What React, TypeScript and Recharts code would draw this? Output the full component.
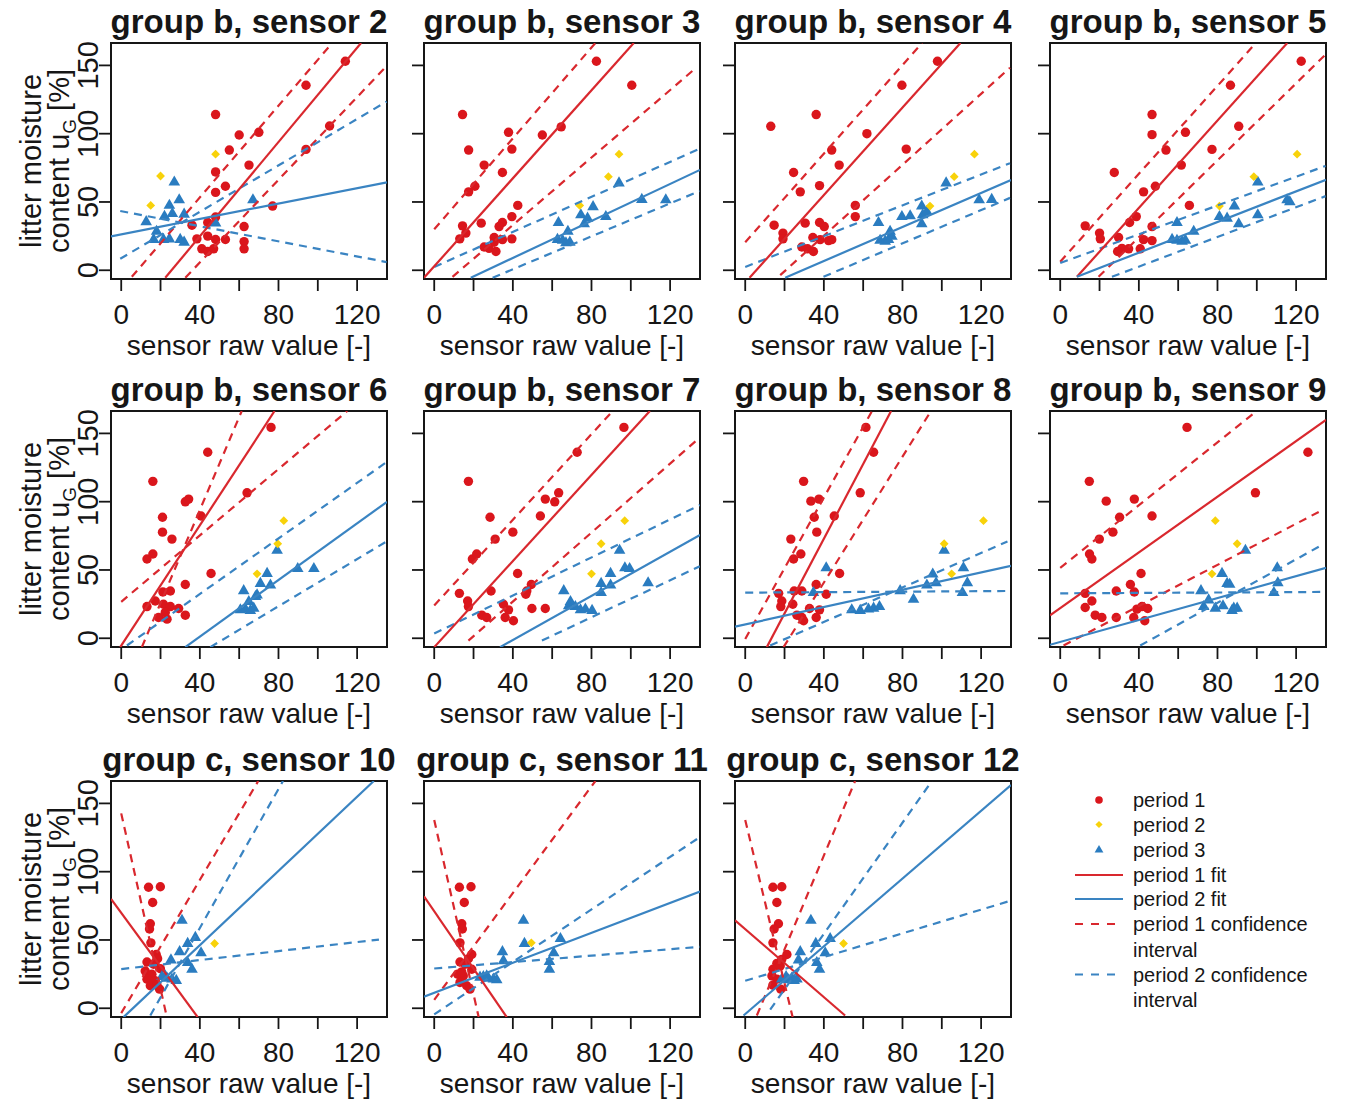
import React from 'react';
import { ScatterChart, Scatter, XAxis, YAxis, ReferenceArea } from 'recharts';

type Pt = [number, number];

const FONT = '"Liberation Sans", Arial, Helvetica, sans-serif';
const RED = '#DA161C';
const YELLOW = '#F8D20A';
const BLUE = '#2A7CC0';
const RED_LINE = '#D9282E';
const BLUE_LINE = '#3A84C2';
const INK = '#161616';

const xTicks = [0, 20, 40, 60, 80, 100, 120];
const yTicks = [0, 50, 100, 150];
const xDomain: [number, number] = [-5.2, 135.2];
const yDomain: [number, number] = [-6.4, 166.4];

const titles = [
  'group b, sensor 2', 'group b, sensor 3', 'group b, sensor 4', 'group b, sensor 5',
  'group b, sensor 6', 'group b, sensor 7', 'group b, sensor 8', 'group b, sensor 9',
  'group c, sensor 10', 'group c, sensor 11', 'group c, sensor 12',
];

// ---- sensor 2
const p1_s2: Pt[] = [[114,153],[94,135.5],[106,105.6],[94,88.5],[48,114],[60,99],[70,101],[55,88],[65,77],[48,72],[53,61.5],[48,57],[77,47],[48,39],[44,35],[36,33],[62.5,32],[38.5,23],[44,25],[48,22.5],[53,22.5],[62.5,21],[62.5,15.7],[41,15.7],[44,13.7],[47,15.7]];
const p2_s2: Pt[] = [[20,69],[15,47.5],[48,85]];
const p3_s2: Pt[] = [[27,65],[29.5,52],[24.5,48],[67,52],[12.7,36],[22,40],[32,41.5],[26,42],[18,29],[16.5,23],[21.5,23],[24.5,23.4],[30,23],[32,21],[48,35]];
const fit1_s2: Pt[] = [[22.4,-5.5],[122,166.4]];
const fit2_s2: Pt[] = [[-5.2,24.8],[135.2,64.4]];
const ci1_s2: Pt[][] = [[[5.4,-4.8],[106.5,165]], [[32.6,-5.5],[135,149.5]]];
const ci2_s2: Pt[][] = [[[-0.5,8.4],[135,123.5]], [[-0.5,43.4],[135,6]]];

// ---- sensor 3
const p1_s3: Pt[] = [[14.4,114],[82.5,153],[100.5,135.5],[17.5,88],[37.8,101],[39.5,88.7],[55,99],[64.6,105],[25.4,77],[34.7,71.6],[17.5,57.4],[20.7,61.5],[14.4,32.5],[16.1,27.2],[13,23],[23.9,34.5],[34.7,35],[33,32],[39.5,39.3],[42.5,47.5],[39.5,23],[30.5,24],[34.7,22.4],[25.4,17],[27.9,16],[31.4,13.7],[30.5,20.5]];
const p2_s3: Pt[] = [[74,47.5],[88.6,68.5],[94,85]];
const p3_s3: Pt[] = [[94,64.4],[105.6,52.3],[117.8,52],[80.8,47],[74.6,41],[78,38.6],[87.3,39.8],[76.3,34.5],[63.2,35.4],[68,29],[62.7,23],[65.3,22.4],[67,20.5],[69,21]];
const fit1_s3: Pt[] = [[-5.2,-5.5],[101.5,166.4]];
const fit2_s3: Pt[] = [[18.6,-5.5],[135.2,73.5]];
const ci1_s3: Pt[][] = [[[0,30],[82,166.4]], [[9.3,-4.8],[133,148]]];
const ci2_s3: Pt[][] = [[[0,2.4],[135,89]], [[29.7,-5.5],[135,58]]];

// ---- sensor 4
const p1_s4: Pt[] = [[97.8,153],[79.7,135.5],[36.1,114],[13,105.4],[61.9,100],[81.9,88.7],[44,88],[47.8,77],[24.6,71.6],[37.8,62],[28,57.4],[56,47.5],[56,39.3],[14.7,33],[30.5,34.5],[37.8,35],[40.2,32],[19.2,27.2],[19.2,23],[34.4,24],[38.1,22.4],[42.4,21.7],[44,22.4],[28.8,17],[31.7,15.7],[34.7,13.7]];
const p2_s4: Pt[] = [[94,47],[106.3,68.5],[116.6,85]];
const p3_s4: Pt[] = [[102.2,64.4],[119,52],[125.4,52.3],[89.8,47.5],[79.7,39.8],[83.9,40.3],[90.3,41],[89.8,34.5],[67.8,35.4],[73.7,29],[68.6,22.4],[71.2,21.7],[72.9,23],[74.6,25.3],[92.4,43.4]];
const fit1_s4: Pt[] = [[2.2,-5.5],[109.5,166.4]];
const fit2_s4: Pt[] = [[20.3,-5.5],[135.2,66]];
const ci1_s4: Pt[][] = [[[0,20.5],[90,166.4]], [[17.8,-3.6],[134.7,148.3]]];
const ci2_s4: Pt[][] = [[[0,2.4],[134.7,78.4]], [[39.8,-4.8],[134.7,53]]];

// ---- sensor 5
const p1_s5: Pt[] = [[122.6,153],[86.6,135.5],[46.7,114],[46.7,99.3],[63.7,101],[90.8,105.4],[53.8,88],[77.2,88.5],[61.6,77],[27.5,71.6],[42.4,57.4],[48.4,61.5],[65.7,47.5],[12.7,32.5],[38.7,39.3],[35.3,35],[46.7,32],[20,27.2],[20.4,23],[29.7,24],[42.4,22.4],[46.7,21.7],[31.4,16],[34.8,15.7],[29.2,13.7],[40.7,15.7]];
const p2_s5: Pt[] = [[81,47],[98.5,68.5],[120.5,85]];
const p3_s5: Pt[] = [[100.5,65],[115.4,52],[116.8,50.6],[88.6,47.5],[81,39.8],[84.9,38.6],[90.8,34.5],[100.5,41],[59.4,35.4],[56.9,23],[59.4,22.4],[62,21.7],[63.7,22.4],[67.9,29]];
const fit1_s5: Pt[] = [[8.5,-4.8],[115.5,166.4]];
const fit2_s5: Pt[] = [[8.5,-4.8],[135.2,66.3]];
const ci1_s5: Pt[][] = [[[0,6.2],[99.5,166.4]], [[19.5,-4.8],[135,158]]];
const ci2_s5: Pt[][] = [[[0,5.25],[135,76.4]], [[26.3,-4.8],[135,54.3]]];

// ---- sensor 6
const p1_s6: Pt[] = [[76.2,154.4],[44,136.2],[16.1,114.9],[34.3,101.9],[32.6,99.9],[64,106.5],[40.6,89.5],[21,88.6],[21,77.7],[25.8,72.6],[13.1,58],[16.1,61.7],[45.7,47.4],[32.6,39.4],[21.2,33.9],[25,34.6],[13.1,23.2],[17.3,27.3],[21.5,24.9],[25,23.2],[29.2,21.8],[32.6,16.9],[19,15.2],[23.3,14],[22.4,18.9]];
const p2_s6: Pt[] = [[69.1,47.2],[79.6,69.2],[82.7,86.1]];
const p3_s6: Pt[] = [[79.3,64.8],[89.8,51.5],[98,51.5],[74.2,47.9],[70.8,40.6],[75.9,39.4],[62.3,35.3],[68.3,31],[64.9,27.3],[60.6,21.3],[63.2,21.8],[65.7,20.8],[67.4,22.5],[69.1,32.2]];
const fit1_s6: Pt[] = [[-0.5,-6.5],[78,166.4]];
const fit2_s6: Pt[] = [[32.6,-6.5],[135.2,99.9]];
const ci1_s6: Pt[][] = [[[10.5,-6.5],[61.3,166.4]], [[0,26.7],[115,166.4]]];
const ci2_s6: Pt[][] = [[[2.9,-5.3],[135,129]], [[45.3,-6.5],[135,70.9]]];

// ---- sensor 7
const p1_s7: Pt[] = [[96.5,154.4],[72.7,136.2],[17.4,114.9],[56.5,101.9],[61.3,99.9],[63.3,106.5],[54,89.5],[28.4,88.6],[40,77.7],[31,72.6],[19.4,58],[21.6,61.7],[42.4,47.4],[28.9,34.6],[12.8,32.9],[47.1,34.6],[49.4,39.4],[46.6,32.2],[17,27.3],[17.4,23.2],[35.2,24.9],[37.8,20.8],[49.7,21.8],[56.5,21.8],[24.2,16.9],[26.7,15.2],[36.1,15.2],[40.3,12.8]];
const p2_s7: Pt[] = [[80,47.2],[84.9,69.2],[96.9,86.1]];
const p3_s7: Pt[] = [[94.3,64.8],[97,52],[99.4,51.5],[108.8,41.1],[89.7,47.9],[84.9,40.6],[89.7,39.4],[84.9,33.9],[65.9,35.3],[69.3,27.3],[71.8,23.7],[74.4,21.3],[76.9,21.8],[80.3,20.8],[68.4,24.2]];
const fit1_s7: Pt[] = [[0,-6.5],[109.7,166.4]];
const fit2_s7: Pt[] = [[33.5,-6.5],[135.2,75.7]];
const ci1_s7: Pt[][] = [[[0,24],[90.8,166.4]], [[17.4,-1.7],[134.8,146.6]]];
const ci2_s7: Pt[][] = [[[0,3.5],[135.1,97.5]], [[54.8,-1.7],[135.1,52.7]]];

// ---- sensor 8
const p1_s8: Pt[] = [[61.4,154.4],[65.3,136.2],[29.7,114.9],[33.4,100.4],[37.5,101.9],[58.5,106.5],[45.3,89.5],[35.1,88.6],[36.4,77.7],[23.2,72.6],[24.6,58],[28.3,61.7],[48,47.4],[36.1,39.4],[41.2,32.2],[17,32.9],[24.9,34.6],[28.8,34.6],[18.6,27.3],[18.1,23.2],[24.2,24.9],[32.7,21.8],[37.8,20.8],[26.3,16.9],[28.8,15.2],[36.1,15.2],[29.7,12.8]];
const p2_s8: Pt[] = [[105,47.2],[101.2,69.2],[121.2,86.1]];
const p3_s8: Pt[] = [[101.2,64.8],[111,52],[41.2,52],[34.7,33.9],[78.8,35.3],[85.6,29],[92.4,39.4],[95.4,47.4],[97.1,41.1],[110.5,33.9],[54.2,21.3],[58.5,20.8],[62.7,21.8],[65.3,22.5],[68.3,23.7],[113,41.1]];
const fit1_s8: Pt[] = [[11,-6.5],[74.2,166.4]];
const fit2_s8: Pt[] = [[-5.2,8.5],[135.2,53]];
const ci1_s8: Pt[][] = [[[0,-0.5],[64.5,166.4]], [[19.5,-6.5],[94.5,166.4]]];
const ci2_s8: Pt[][] = [[[0,33.4],[133.4,34.6]], [[12.7,-5.3],[133.4,70.9]]];

// ---- sensor 9
const p1_s9: Pt[] = [[64.5,154.4],[126,136.2],[99.3,106.5],[14.8,114.9],[23.4,100.4],[37.7,101.9],[30.2,88.6],[46.7,89.5],[26.8,77.7],[19.9,72.6],[14.9,61.7],[16.1,58],[41.1,47.4],[28.5,34.6],[35.7,39.4],[37.7,33.9],[12.7,32.9],[16.1,27.3],[12.7,22.5],[17.8,16.9],[21.2,15.2],[28.5,15.2],[37.4,15.2],[39,21.3],[41.6,23.2],[44.5,21.8],[43,12.8]];
const p2_s9: Pt[] = [[77.2,47.2],[90,69.2],[78.9,86.1]];
const p3_s9: Pt[] = [[94.2,64.8],[82.3,47.9],[84.9,40.6],[86.2,39.9],[71.6,35.3],[75.5,28.5],[73,23.7],[78.9,22.5],[82.8,24.2],[87.4,20.8],[90,22.5],[110.4,52],[110.7,41.1],[108.7,33.9],[88.3,22.5]];
const fit1_s9: Pt[] = [[-5.2,16.8],[135.2,159.9]];
const fit2_s9: Pt[] = [[-5.2,-4.8],[135.2,51.6]];
const ci1_s9: Pt[][] = [[[0,51.5],[100,166.4]], [[1.7,-5.3],[132.4,93.2]]];
const ci2_s9: Pt[][] = [[[0,32.9],[132.4,33.9]], [[40.7,-5.3],[132.4,67.7]]];

// ---- sensor 10
const p1_s10: Pt[] = [[13.9,88.6],[19.9,89],[16,77.4],[14.8,61.9],[14.4,58],[15.1,47.9],[17.8,39.4],[18.5,36.3],[13.1,33.9],[16.5,32.2],[19.9,29],[12.2,27.3],[15.6,24.9],[13.1,21.3],[17.3,20.1],[14.8,16.5],[19.5,14],[18.2,16.9]];
const p2_s10: Pt[] = [[47.5,47.4]];
const p3_s10: Pt[] = [[30.9,64.8],[37.7,52.3],[33.8,47.9],[29.7,41.9],[40.6,41.1],[25.3,35.8],[33.8,33.9],[36,29],[20.7,23.7],[23.3,22.5],[25.8,21.8],[28,20.8],[22.4,24.2]];
const fit1_s10: Pt[] = [[-5.2,80],[38.9,-6.5]];
const fit2_s10: Pt[] = [[1.2,-6.5],[128.5,166.4]];
const ci1_s10: Pt[][] = [[[0,142.7],[23.2,-6.4]], [[0,-3.6],[69.7,166.4]]];
const ci2_s10: Pt[][] = [[[14.8,-5.3],[82.3,166.4]], [[0,28.7],[131.1,50.3]]];

// ---- sensor 11
const p1_s11: Pt[] = [[12.8,88.6],[18.7,89],[15.3,77.4],[14,61.9],[14.3,58],[13.1,47.9],[19.1,39.4],[17.4,36.3],[13.1,33.9],[15.7,32.2],[19.1,28.6],[11.9,24.9],[14.8,23.7],[13.1,18.9],[16.5,16.5],[18.2,14],[14,26.6]];
const p2_s11: Pt[] = [[49.4,47.9]];
const p3_s11: Pt[] = [[45.4,64.8],[64.2,51.5],[45.9,47.9],[34.7,41.9],[60.8,41.1],[35.2,35.3],[58.6,34.6],[58.6,29],[25,23.7],[27.6,22.5],[30.1,21.8],[31.8,21.3],[26.7,24.2],[23.3,23.2]];
const fit1_s11: Pt[] = [[-5.2,82],[36.9,-6.5]];
const fit2_s11: Pt[] = [[-5.2,8.5],[135.2,85.5]];
const ci1_s11: Pt[][] = [[[0,137.8],[22.6,-6.4]], [[0,6.2],[82,166.4]]];
const ci2_s11: Pt[][] = [[[0,-4.5],[135.1,125.3]], [[0,29.1],[135.1,45]]];

// ---- sensor 12
const p1_s12: Pt[] = [[14.1,88.6],[18.6,89],[16.1,77.4],[16.9,61.9],[14.7,58],[14.1,47.9],[21.2,39.4],[18.6,35.8],[16.1,32.9],[14.1,28.6],[13.6,23.7],[16.1,21.3],[14.1,16.9],[18.1,14],[17.8,31]];
const p2_s12: Pt[] = [[50,47.4]];
const p3_s12: Pt[] = [[33.4,64.8],[43.2,51.5],[35.9,47.9],[28,41.9],[40.7,41.1],[27.1,35.8],[36.4,33.9],[37.8,29],[20.8,23.7],[23.7,22.5],[26.3,21.8],[22,21.3],[24.9,20.8],[18.6,21.8]];
const fit1_s12: Pt[] = [[-5.2,64.4],[50.8,-5.3]];
const fit2_s12: Pt[] = [[-0.85,-5.3],[135.2,163.5]];
const ci1_s12: Pt[][] = [[[0,137.9],[24.1,-6.4]], [[5.9,-5.3],[55.9,166.4]]];
const ci2_s12: Pt[][] = [[[12.7,-1],[95,166.4]], [[0,20.1],[134.7,78.6]]];

const legendLabels = ['period 1', 'period 2', 'period 3', 'period 1 fit', 'period 2 fit', 'period 1 confidence', 'interval', 'period 2 confidence', 'interval'];

const panels = [
  { p1: p1_s2, p2: p2_s2, p3: p3_s2, fit1: fit1_s2, fit2: fit2_s2, ci1: ci1_s2, ci2: ci2_s2 },
  { p1: p1_s3, p2: p2_s3, p3: p3_s3, fit1: fit1_s3, fit2: fit2_s3, ci1: ci1_s3, ci2: ci2_s3 },
  { p1: p1_s4, p2: p2_s4, p3: p3_s4, fit1: fit1_s4, fit2: fit2_s4, ci1: ci1_s4, ci2: ci2_s4 },
  { p1: p1_s5, p2: p2_s5, p3: p3_s5, fit1: fit1_s5, fit2: fit2_s5, ci1: ci1_s5, ci2: ci2_s5 },
  { p1: p1_s6, p2: p2_s6, p3: p3_s6, fit1: fit1_s6, fit2: fit2_s6, ci1: ci1_s6, ci2: ci2_s6 },
  { p1: p1_s7, p2: p2_s7, p3: p3_s7, fit1: fit1_s7, fit2: fit2_s7, ci1: ci1_s7, ci2: ci2_s7 },
  { p1: p1_s8, p2: p2_s8, p3: p3_s8, fit1: fit1_s8, fit2: fit2_s8, ci1: ci1_s8, ci2: ci2_s8 },
  { p1: p1_s9, p2: p2_s9, p3: p3_s9, fit1: fit1_s9, fit2: fit2_s9, ci1: ci1_s9, ci2: ci2_s9 },
  { p1: p1_s10, p2: p2_s10, p3: p3_s10, fit1: fit1_s10, fit2: fit2_s10, ci1: ci1_s10, ci2: ci2_s10 },
  { p1: p1_s11, p2: p2_s11, p3: p3_s11, fit1: fit1_s11, fit2: fit2_s11, ci1: ci1_s11, ci2: ci2_s11 },
  { p1: p1_s12, p2: p2_s12, p3: p3_s12, fit1: fit1_s12, fit2: fit2_s12, ci1: ci1_s12, ci2: ci2_s12 },
];

// layout (page pixels of each plot box)
const COL_X = [111, 424, 735, 1050];
const ROW_Y = [43, 411, 781];
const PW = 276;
const PH = 236;
const ML = 112; // room left of plot box
const MT = 8;
const MR = 12;
const MB = 86;

const toXY = (a: Pt[]) => a.map(([x, y]) => ({ x, y }));

const Dot = (p: any) => <circle cx={p.cx} cy={p.cy} r={4.7} fill={RED} />;
const Diamond = (p: any) => {
  const r = 4.4;
  return <path d={`M${p.cx},${p.cy - r}L${p.cx + r},${p.cy}L${p.cx},${p.cy + r}L${p.cx - r},${p.cy}Z`} fill={YELLOW} />;
};
const Tri = (p: any) => (
  <path d={`M${p.cx},${p.cy - 6}L${p.cx + 5.8},${p.cy + 4.1}L${p.cx - 5.8},${p.cy + 4.1}Z`} fill={BLUE} />
);
const Empty = () => <g />;

const XTick = (p: any) => {
  const v = p.payload.value;
  if (v % 40 !== 0) return <g />;
  return (
    <text x={p.x} y={p.y + 32.5} textAnchor="middle" fontSize={28} fontFamily={FONT} fill={INK}>
      {v}
    </text>
  );
};

const YTick = (p: any) => {
  const bx = p.x - 0.5;
  return (
    <text x={bx} y={p.y} transform={`rotate(-90 ${bx} ${p.y})`} textAnchor="middle" fontSize={29} fontFamily={FONT} fill={INK}>
      {p.payload.value}
    </text>
  );
};

const XLabel = (p: any) => {
  const vb = p.viewBox;
  return (
    <text x={vb.x + vb.width / 2} y={vb.y + 76} textAnchor="middle" fontSize={28} fontFamily={FONT} fill={INK}>
      sensor raw value [-]
    </text>
  );
};

const YLabel = (p: any) => {
  const vb = p.viewBox;
  const left = vb.x + vb.width;
  const cy = vb.y + vb.height / 2;
  const b1 = left - 70;
  const b2 = left - 42;
  return (
    <g fontFamily={FONT} fontSize={29} fill={INK}>
      <text x={b1} y={cy} transform={`rotate(-90 ${b1} ${cy})`} textAnchor="middle">litter moisture</text>
      <text x={b2} y={cy} transform={`rotate(-90 ${b2} ${cy})`} textAnchor="middle">
        content u<tspan dy={7} fontSize={19}>G</tspan><tspan dy={-7}> [%]</tspan>
      </text>
    </g>
  );
};

function Panel({ idx, data }: { idx: number; data: typeof panels[number] }) {
  const col = idx % 4;
  const row = Math.floor(idx / 4);
  const left = COL_X[col];
  const top = ROW_Y[row];
  const lineSeries = [
    ...data.ci1.map((s) => ({ s, stroke: RED_LINE, dash: '8 6' })),
    ...data.ci2.map((s) => ({ s, stroke: BLUE_LINE, dash: '8 6' })),
    { s: data.fit1, stroke: RED_LINE, dash: undefined },
    { s: data.fit2, stroke: BLUE_LINE, dash: undefined },
  ];
  return (
    <>
      <div
        style={{
          position: 'absolute', left: left - 80, top: top - 38, width: PW + 160, textAlign: 'center',
          fontSize: 33, fontWeight: 'bold', lineHeight: '33px', whiteSpace: 'nowrap', color: INK, fontFamily: FONT,
        }}
      >
        {titles[idx]}
      </div>
      <div style={{ position: 'absolute', left: left - ML, top: top - MT }}>
        <ScatterChart
          width={ML + PW + MR}
          height={MT + PH + MB}
          margin={{ top: MT, right: MR, left: ML - 30, bottom: MB - 80 }}
        >
          <XAxis
            type="number" dataKey="x" domain={xDomain} ticks={xTicks} interval={0} allowDataOverflow
            axisLine={false} tickSize={12} tickMargin={0} height={80}
            tickLine={{ stroke: INK, strokeWidth: 1.8 }} tick={<XTick />} label={<XLabel />}
          />
          <YAxis
            type="number" dataKey="y" domain={yDomain} ticks={yTicks} interval={0} allowDataOverflow
            axisLine={false} tickSize={12} tickMargin={0} width={30}
            tickLine={{ stroke: INK, strokeWidth: 1.8 }}
            tick={col === 0 ? <YTick /> : <Empty />}
            label={col === 0 ? <YLabel /> : undefined}
          />
          <Scatter data={toXY(data.p1)} shape={Dot} isAnimationActive={false} />
          <Scatter data={toXY(data.p3)} shape={Tri} isAnimationActive={false} />
          <Scatter data={toXY(data.p2)} shape={Diamond} isAnimationActive={false} />
          {lineSeries.map((l, i) => (
            <Scatter
              key={i}
              data={toXY(l.s)}
              shape={Empty}
              line={{ stroke: l.stroke, strokeWidth: 2.2, strokeDasharray: l.dash }}
              lineJointType="linear"
              isAnimationActive={false}
            />
          ))}
          <ReferenceArea
            x1={xDomain[0]} x2={xDomain[1]} y1={yDomain[0]} y2={yDomain[1]}
            fill="none" fillOpacity={0} stroke={INK} strokeWidth={2} ifOverflow="visible"
          />
        </ScatterChart>
      </div>
    </>
  );
}

function LegendBox() {
  const rows = [800, 824.5, 849.5, 875, 899, 924, 950, 974.5, 1000];
  const tx = 1133;
  const mx = 1099;
  return (
    <svg width={1345} height={1099} style={{ position: 'absolute', left: 0, top: 0, pointerEvents: 'none' }}>
      <circle cx={mx} cy={rows[0]} r={3.8} fill={RED} />
      <path d={`M${mx},${rows[1] - 3.6}L${mx + 3.6},${rows[1]}L${mx},${rows[1] + 3.6}L${mx - 3.6},${rows[1]}Z`} fill={YELLOW} />
      <path d={`M${mx},${rows[2] - 4.6}L${mx + 4.4},${rows[2] + 3.1}L${mx - 4.4},${rows[2] + 3.1}Z`} fill={BLUE} />
      <line x1={1075} x2={1123} y1={rows[3]} y2={rows[3]} stroke={RED_LINE} strokeWidth={2} />
      <line x1={1075} x2={1123} y1={rows[4]} y2={rows[4]} stroke={BLUE_LINE} strokeWidth={2} />
      <line x1={1075} x2={1123} y1={rows[5]} y2={rows[5]} stroke={RED_LINE} strokeWidth={2} strokeDasharray="8 8" />
      <line x1={1075} x2={1123} y1={rows[7]} y2={rows[7]} stroke={BLUE_LINE} strokeWidth={2} strokeDasharray="8 8" />
      {legendLabels.map((t, i) => (
        <text key={i} x={tx} y={rows[i] + 7} fontSize={20} fontFamily={FONT} fill={INK}>
          {t}
        </text>
      ))}
    </svg>
  );
}

export default function App() {
  return (
    <div style={{ position: 'absolute', left: 0, top: 0, width: 1345, height: 1099, background: '#fff', fontFamily: FONT }}>
      {panels.map((d, i) => (
        <Panel key={i} idx={i} data={d} />
      ))}
      <LegendBox />
    </div>
  );
}
